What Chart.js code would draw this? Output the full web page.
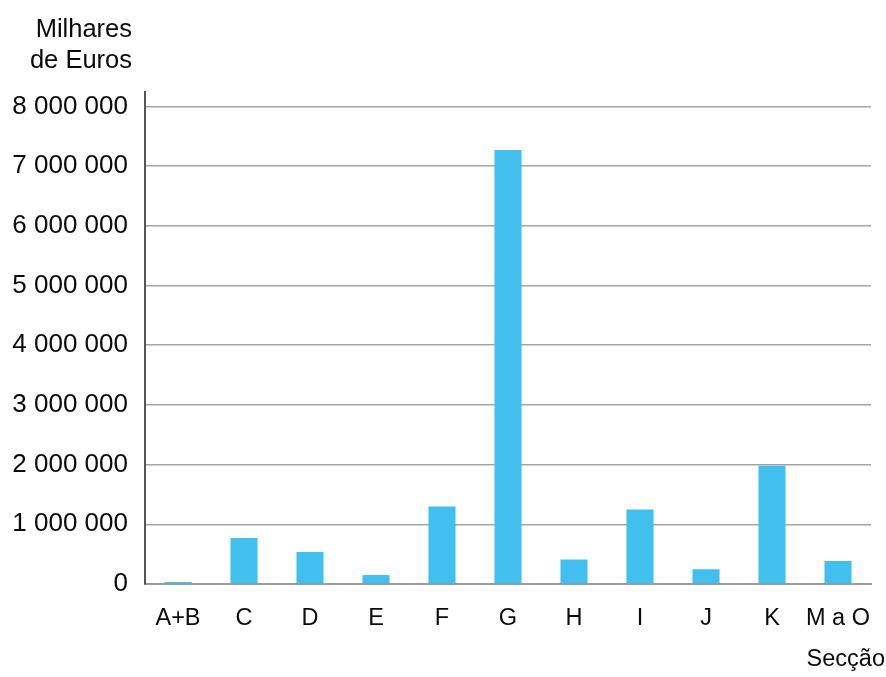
<!DOCTYPE html>
<html>
<head>
<meta charset="utf-8">
<script src="https://cdn.jsdelivr.net/npm/chart.js@4/dist/chart.umd.min.js"></script>
<style>
  html, body { margin: 0; padding: 0; background: #fff; }
  #wrap { width: 886px; height: 677px; position: relative; }
</style>
</head>
<body>
<div id="wrap"><canvas id="c" width="886" height="677"></canvas></div>
<script>
const categories = ['A+B', 'C', 'D', 'E', 'F', 'G', 'H', 'I', 'J', 'K', 'M a O'];
const values = [35000, 770000, 535000, 150000, 1300000, 7270000, 410000, 1250000, 245000, 1980000, 385000];
const yTicks = [0, 1000000, 2000000, 3000000, 4000000, 5000000, 6000000, 7000000, 8000000];
const yTitleLines = ['Milhares', 'de Euros'];
const xTitle = 'Secção';

const FONT = '"Liberation Sans", Arial, Helvetica, sans-serif';

const fmt = v => String(v).replace(/\B(?=(\d{3})+(?!\d))/g, ' ');

const titles = {
  id: 'titles',
  afterDraw(chart) {
    const ctx = chart.ctx;
    ctx.save();
    ctx.fillStyle = '#0a0a0a';
    ctx.font = '25.5px ' + FONT;
    ctx.textAlign = 'right';
    ctx.textBaseline = 'alphabetic';
    ctx.fillText(yTitleLines[0], 132, 37);
    ctx.fillText(yTitleLines[1], 132, 68);
    ctx.font = '23.5px ' + FONT;
    ctx.fillText(xTitle, 885, 666);
    ctx.restore();
  }
};

new Chart(document.getElementById('c'), {
  type: 'bar',
  data: {
    labels: categories,
    datasets: [{
      data: values,
      backgroundColor: '#41BFEF',
      borderWidth: 0,
      barPercentage: 0.41,
      categoryPercentage: 1.0
    }]
  },
  options: {
    responsive: false,
    animation: false,
    devicePixelRatio: 1,
    layout: { padding: { top: 91.5, right: 15, bottom: 0, left: 0 } },
    plugins: { legend: { display: false }, tooltip: { enabled: false } },
    scales: {
      x: {
        grid: { display: false, drawTicks: false },
        border: { display: true, color: '#9a9a9a', width: 2 },
        ticks: { color: '#0a0a0a', font: { size: 23.5, family: FONT }, padding: 20, maxRotation: 0, autoSkip: false },
        afterFit: s => { s.height = 93; s.paddingLeft = 0; s.paddingRight = 0; }
      },
      y: {
        min: 0,
        max: 8250000,
        grid: { color: '#a4a4a4', lineWidth: 1.5, drawTicks: false },
        border: { display: true, color: '#555', width: 2 },
        afterBuildTicks: s => { s.ticks = yTicks.map(v => ({ value: v })); },
        ticks: { color: '#0a0a0a', font: { size: 26, family: FONT }, padding: 17, callback: v => fmt(v) },
        afterFit: s => { s.width = 145; s.paddingTop = 0; s.paddingBottom = 0; }
      }
    }
  },
  plugins: [titles]
});
</script>
</body>
</html>
